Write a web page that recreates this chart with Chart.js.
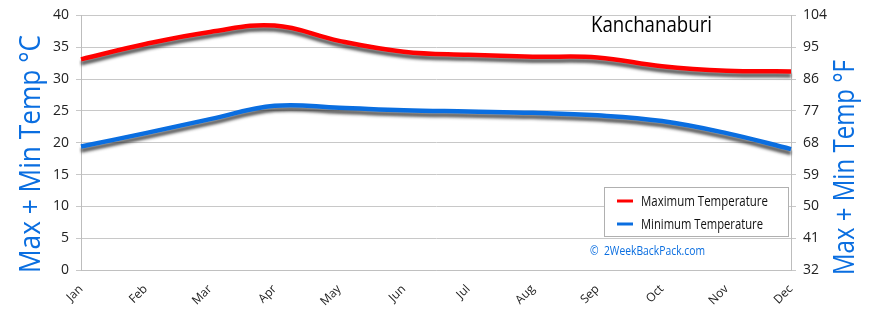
<!DOCTYPE html>
<html><head><meta charset="utf-8">
<script src="https://cdn.jsdelivr.net/npm/chart.js@4"></script>
<style>html,body{margin:0;padding:0;background:#fff}#wrap{width:870px;height:310px}</style>
</head><body><div id="wrap"><canvas id="c" width="870" height="310"></canvas></div>
<script>
const months = ['Jan','Feb','Mar','Apr','May','Jun','Jul','Aug','Sep','Oct','Nov','Dec'];
const maxTemp = [33.1, 35.5, 37.4, 38.4, 36.0, 34.3, 33.8, 33.5, 33.4, 32.0, 31.3, 31.2];
const minTemp = [19.4, 21.5, 23.7, 25.8, 25.5, 25.1, 24.9, 24.7, 24.3, 23.4, 21.5, 19.0];
const seriesNames = ['Maximum Temperature', 'Minimum Temperature'];
const cityName = 'Kanchanaburi';
const leftAxisTitle = 'Max + Min Temp °C';
const rightAxisTitle = 'Max + Min Temp °F';
const credit = '©  2WeekBackPack.com';
const celsiusRange = [0, 40, 5];
const fahrenheitRange = [32, 104, 9];

const RED = '#ff0000';
const BLUE = '#0a6ee0';
const FONT = "'Open Sans', 'Liberation Sans', sans-serif";

const shadowPlugin = {
  id: 'lineShadow',
  beforeDatasetDraw(chart) {
    const c = chart.ctx;
    c.save();
    c.shadowColor = 'rgba(40,40,40,0.75)';
    c.shadowBlur = 3;
    c.shadowOffsetX = 0;
    c.shadowOffsetY = 4;
  },
  afterDatasetDraw(chart) { chart.ctx.restore(); }
};

// draw text squeezed to a given width
function fitText(c, text, x, y, width, size, color, rot) {
  c.save();
  c.font = size + 'px ' + FONT;
  const w = c.measureText(text).width;
  c.translate(x, y);
  if (rot) c.rotate(rot);
  c.scale(width / w, 1);
  c.fillStyle = color;
  c.textAlign = 'left';
  c.textBaseline = 'middle';
  c.fillText(text, 0, 0);
  c.restore();
}

const decorPlugin = {
  id: 'decor',
  afterDraw(chart) {
    const c = chart.ctx;
    const area = chart.chartArea;
    fitText(c, cityName, area.right - 200, 26, 121, 21, '#000');
    const bx = area.right - 187, by = 187, bw = 184, bh = 49;
    c.save();
    c.fillStyle = '#fff';
    c.fillRect(bx, by, bw, bh);
    c.strokeStyle = '#b0b0b0';
    c.lineWidth = 1;
    c.strokeRect(bx + 0.5, by + 0.5, bw, bh);
    c.restore();
    chart.data.datasets.forEach((ds, i) => {
      const y = by + 14 + i * 23;
      c.save();
      c.strokeStyle = ds.borderColor;
      c.lineWidth = 3;
      c.beginPath();
      c.moveTo(bx + 13, y);
      c.lineTo(bx + 29, y);
      c.stroke();
      c.restore();
      fitText(c, ds.label, bx + 37, y + 1, i === 0 ? 127 : 122, 14, '#111');
    });
    fitText(c, credit, bx - 14, 251, 115, 12.5, BLUE);
    fitText(c, leftAxisTitle, 31, 273, 238, 30, BLUE, -Math.PI / 2);
    fitText(c, rightAxisTitle, 845, 275, 215, 30, BLUE, -Math.PI / 2);
  }
};

new Chart(document.getElementById('c'), {
  type: 'line',
  data: {
    labels: months,
    datasets: [
      { label: seriesNames[0], data: maxTemp, borderColor: RED, backgroundColor: RED,
        borderWidth: 4.5, pointRadius: 0, tension: 0.4, fill: false, yAxisID: 'y' },
      { label: seriesNames[1], data: minTemp, borderColor: BLUE, backgroundColor: BLUE,
        borderWidth: 4.5, pointRadius: 0, tension: 0.4, fill: false, yAxisID: 'y' }
    ]
  },
  options: {
    responsive: false,
    animation: false,
    devicePixelRatio: 1,
    layout: { padding: { top: 10, left: 0, right: 0, bottom: 0 } },
    plugins: { legend: { display: false }, tooltip: { enabled: false }, title: { display: false } },
    scales: {
      x: {
        offset: false,
        grid: { drawOnChartArea: false, drawTicks: false, color: '#c0c0c0' },
        border: { display: true, color: '#c0c0c0' },
        ticks: { minRotation: 45, maxRotation: 45, padding: 12, color: '#222',
                 font: { family: FONT, size: 12 } },
        afterFit(s) { s.height = 40; }
      },
      y: {
        position: 'left',
        min: celsiusRange[0], max: celsiusRange[1],
        ticks: { stepSize: celsiusRange[2], padding: 7, color: '#222',
                 font: { family: FONT, size: 14 } },
        grid: { color: '#c8c8c8', tickLength: 5 },
        border: { color: '#bdbdbd' },
        afterFit(s) { s.width = 81; }
      },
      yF: {
        position: 'right',
        min: fahrenheitRange[0], max: fahrenheitRange[1],
        ticks: { stepSize: fahrenheitRange[2], padding: 7, color: '#222',
                 font: { family: FONT, size: 14 } },
        grid: { drawOnChartArea: false, color: '#c8c8c8', tickLength: 5 },
        border: { color: '#bdbdbd' },
        afterFit(s) { s.width = 79; }
      }
    }
  },
  plugins: [shadowPlugin, decorPlugin]
});
</script>
</body></html>
